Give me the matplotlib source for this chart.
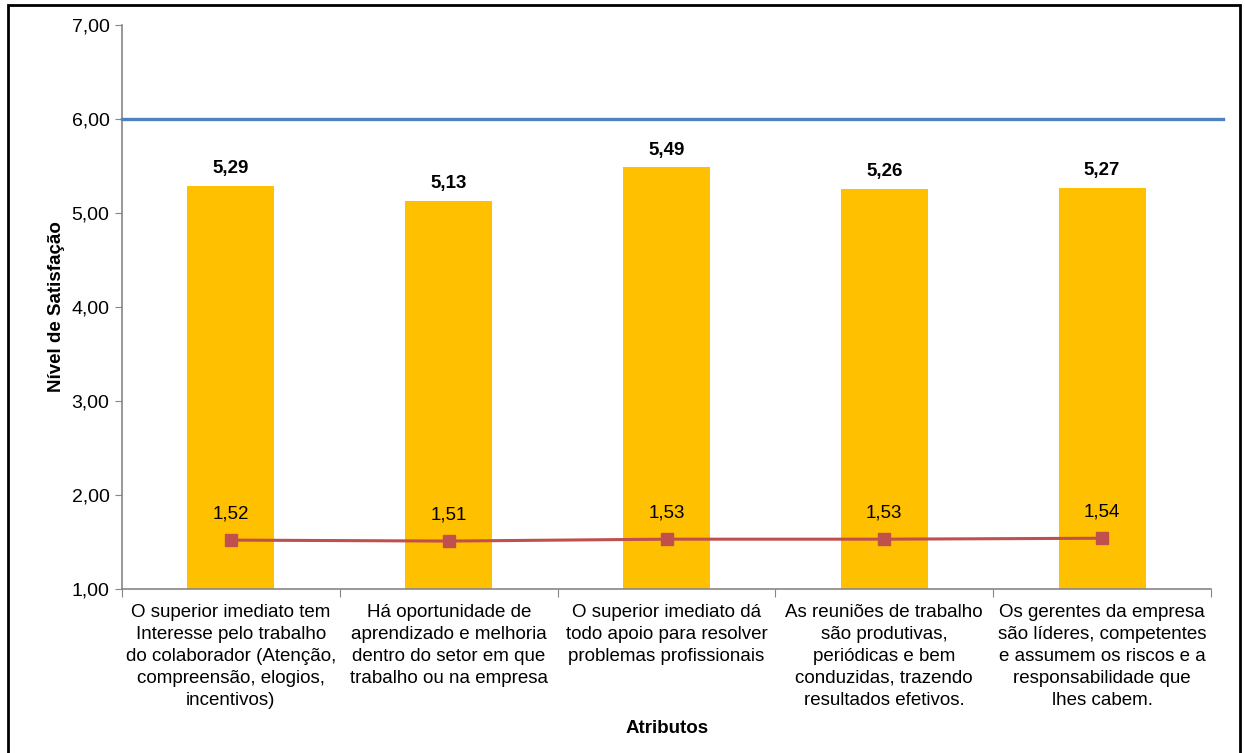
"""
Nível de satisfação por atributo: barras, linha de referência e linha de desvio.
"""

import numpy as np
import matplotlib.pyplot as plt
from matplotlib.patches import Rectangle
from matplotlib.ticker import FuncFormatter

plt.rcParams['font.family'] = ['Liberation Sans', 'DejaVu Sans']

categories = [
    "O superior imediato tem\nInteresse pelo trabalho\ndo colaborador (Atenção,\ncompreensão, elogios,\nincentivos)",
    "Há oportunidade de\naprendizado e melhoria\ndentro do setor em que\ntrabalho ou na empresa",
    "O superior imediato dá\ntodo apoio para resolver\nproblemas profissionais",
    "As reuniões de trabalho\nsão produtivas,\nperiódicas e bem\nconduzidas, trazendo\nresultados efetivos.",
    "Os gerentes da empresa\nsão líderes, competentes\ne assumem os riscos e a\nresponsabilidade que\nlhes cabem.",
]
satisfacao = [5.29, 5.13, 5.49, 5.26, 5.27]
desvio = [1.52, 1.51, 1.53, 1.53, 1.54]
meta = 6.0

BAR = '#FFC000'
RED = '#C0504D'
BLUE = '#4F81BD'
AXIS = '#868686'


def fmt(v):
    return f"{v:.2f}".replace('.', ',')


fig = plt.figure(figsize=(12.45, 7.53), dpi=100)
ax = fig.add_axes([0.098, 0.2178, 0.8747, 0.749])

x = np.arange(len(categories))
ax.bar(x, satisfacao, width=0.4, color=BAR, zorder=2)
for xi, v in zip(x, satisfacao):
    ax.annotate(fmt(v), (xi, v), xytext=(0, 6), textcoords='offset points',
                ha='center', va='bottom', fontsize=13.5, fontweight='bold')

ax.plot(x, desvio, color=RED, lw=2.2, marker='s', ms=8, mec=RED, zorder=3)
for xi, v in zip(x, desvio):
    ax.annotate(fmt(v), (xi, v), xytext=(0, 13), textcoords='offset points',
                ha='center', va='bottom', fontsize=13.5)

ax.axhline(meta, xmin=0, xmax=1.011, color=BLUE, lw=2.4, clip_on=False, zorder=3)

ax.set_xlim(-0.5, len(categories) - 0.5)
ax.set_ylim(1, 7)
ax.set_yticks(np.arange(1, 8))
ax.yaxis.set_major_formatter(FuncFormatter(lambda v, p: fmt(v)))
ax.set_xticks(np.arange(-0.5, len(categories)))
ax.set_xticklabels([])
ax.set_xticks(x, minor=True)
ax.set_xticklabels(categories, minor=True, fontsize=13.5, linespacing=1.37, va='top')
ax.tick_params(axis='x', which='minor', length=0, pad=11)
ax.tick_params(axis='x', which='major', length=6, color=AXIS, direction='out')
ax.tick_params(axis='y', length=5, color=AXIS, labelsize=14, pad=4)

for s in ['top', 'right']:
    ax.spines[s].set_visible(False)
for s in ['left', 'bottom']:
    ax.spines[s].set_color(AXIS)
    ax.spines[s].set_linewidth(1.2)

ax.set_ylabel("Nível de Satisfação", fontsize=13.5, fontweight='bold', labelpad=5)
fig.text(0.5356, 0.033, "Atributos", ha='center', va='center', fontsize=13.5, fontweight='bold')

fig.patches.append(Rectangle((0.0068, -0.01), 0.9895, 1.003, transform=fig.transFigure,
                             fill=False, ec='black', lw=2))

fig.savefig('out.png', dpi=100)
